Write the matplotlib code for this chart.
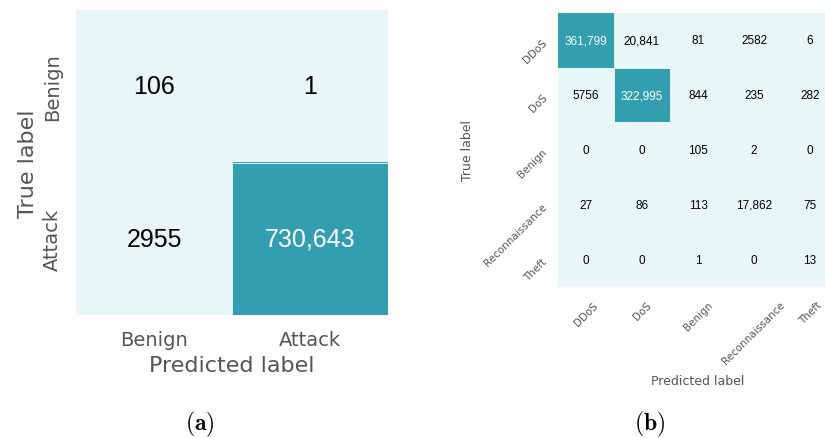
import numpy as np
import matplotlib
matplotlib.use("Agg")
import matplotlib.pyplot as plt
from matplotlib.colors import ListedColormap, BoundaryNorm

plt.rcParams["font.family"] = ["DejaVu Sans"]
plt.rcParams["mathtext.fontset"] = "cm"

# Binary classification (a)
bin_labels = ["Benign", "Attack"]
bin_cm = [[106, 1],
          [2955, 730643]]

# Multi-class classification (b)
multi_labels = ["DDoS", "DoS", "Benign", "Reconnaissance", "Theft"]
multi_cm = [[361799, 20841, 81, 2582, 6],
            [5756, 322995, 844, 235, 282],
            [0, 0, 105, 2, 0],
            [27, 86, 113, 17862, 75],
            [0, 0, 1, 0, 13]]

LIGHT = "#e8f6f8"
DARK = "#329fb1"
TICK_GRAY = "#555555"
ANN_FONT = ["Liberation Sans", "DejaVu Sans"]


def fmt(v):
    return f"{v:,}" if v >= 10000 else str(v)


def draw_cm(ax, cm, labels, ann_size, tick_size, label_size, xpad, ypad):
    data = np.array(cm)
    cmap = ListedColormap([LIGHT, DARK])
    norm = BoundaryNorm([0, 100000, data.max() + 1], cmap.N)
    n = data.shape[0]
    ax.imshow(data, cmap=cmap, norm=norm, aspect="auto", interpolation="nearest")
    # thin light separators between cells
    for k in range(1, n):
        ax.axhline(k - 0.5, color=LIGHT, lw=0.7)
        ax.axvline(k - 0.5, color=LIGHT, lw=0.7)
    for i in range(n):
        for j in range(n):
            v = data[i, j]
            ax.text(j, i, fmt(v), ha="center", va="center", fontsize=ann_size,
                    family=ANN_FONT,
                    color="white" if norm(v) > 0 else "black")
    ax.set_xticks(range(n))
    ax.set_yticks(range(n))
    ax.tick_params(length=0, colors=TICK_GRAY, labelsize=tick_size)
    ax.tick_params(axis="x", pad=xpad)
    ax.tick_params(axis="y", pad=ypad)
    for s in ax.spines.values():
        s.set_visible(False)
    ax.set_xlim(-0.5, n - 0.5)
    ax.set_ylim(n - 0.5, -0.5)
    ax.set_xlabel("Predicted label", fontsize=label_size, color=TICK_GRAY)
    ax.set_ylabel("True label", fontsize=label_size, color=TICK_GRAY)


fig = plt.figure(figsize=(8.25, 4.39), dpi=100)

ax_a = fig.add_axes([76 / 825, 1 - 316 / 439, 312 / 825, 305 / 439])
draw_cm(ax_a, bin_cm, bin_labels, 18, 14, 16, 11, 10)
ax_a.set_xticklabels(bin_labels)
ax_a.set_yticklabels(bin_labels, rotation=90, va="center")
ax_a.xaxis.labelpad = 4
ax_a.yaxis.labelpad = 4

ax_b = fig.add_axes([558 / 825, 1 - 288 / 439, 280 / 825, 274 / 439])
draw_cm(ax_b, multi_cm, multi_labels, 8.5, 7.5, 9, 9, 9)
ax_b.set_xticklabels(multi_labels, rotation=45, ha="center")
ax_b.set_yticklabels(multi_labels, rotation=45, ha="right", va="center",
                     rotation_mode="anchor")
ax_b.xaxis.labelpad = 6
ax_b.yaxis.labelpad = 6

fig.text(200 / 825, 1 - 424 / 439, r"$(\mathbf{a})$", ha="center", va="center", fontsize=17)
fig.text(650 / 825, 1 - 424 / 439, r"$(\mathbf{b})$", ha="center", va="center", fontsize=17)

fig.savefig("out.png", dpi=100)
